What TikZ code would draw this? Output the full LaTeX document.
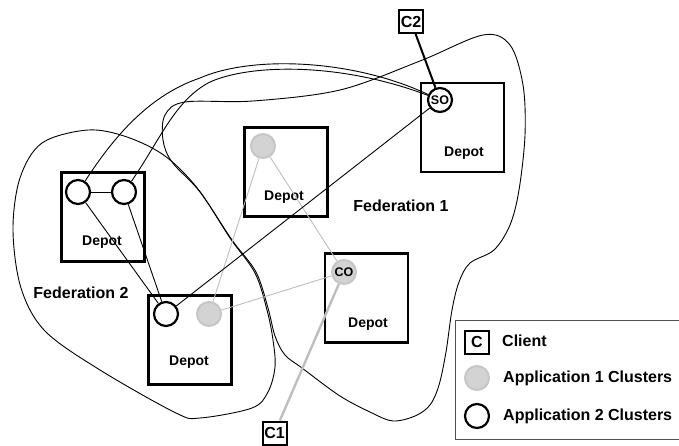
\documentclass[tikz,border=0pt]{standalone}
\usepackage{fontspec}
\setmainfont{Liberation Sans}
\definecolor{appgrey}{HTML}{D3D3D3}
\definecolor{appedge}{HTML}{C6C6C6}
\definecolor{linkgrey}{HTML}{BEBEBE}
\definecolor{legendedge}{HTML}{505050}
\begin{document}
\begin{tikzpicture}[x=1pt,y=-1pt,
  depotbox/.style={draw, line width=2.3pt, minimum width=83pt, minimum height=89pt, inner sep=0pt},
  depotlabel/.style={font=\fontsize{14}{16}\selectfont\bfseries, inner sep=0pt},
  fedlabel/.style={font=\fontsize{16}{18}\selectfont\bfseries, inner sep=0pt},
  legendtext/.style={font=\fontsize{16}{18}\selectfont\bfseries, inner sep=0pt, anchor=west},
  appone/.style={circle, fill=appgrey, draw=appedge, line width=2pt, minimum size=24pt, inner sep=0pt, font=\fontsize{12.5}{13}\selectfont\bfseries},
  apptwo/.style={circle, fill=white, draw=black, line width=2.2pt, minimum size=24pt, inner sep=0pt, font=\fontsize{12.5}{13}\selectfont\bfseries},
  client/.style={draw, line width=2pt, minimum width=24pt, minimum height=23pt, inner sep=0pt, font=\fontsize{16}{18}\selectfont\bfseries},
  thinlink/.style={line width=0.9pt, black},
  greylink/.style={line width=0.9pt, linkgrey},
  fedline/.style={line width=0.9pt, black}
]
\useasboundingbox (0,0) rectangle (679,446);

% federation outlines
\draw[fedline] plot[smooth cycle, tension=0.55] coordinates {
  (185,102) (253,101) (340,90) (420,61) (483,35) (510,45) (523,85) (525,135)
  (519,190) (510,225) (494,250) (470,263) (459,282) (452,310) (446,352)
  (439,385) (430,405) (415,416) (393,421) (372,413) (340,396) (302,368)
  (285,355) (275,336) (268,308) (256,272) (232,240) (200,192) (172,162)
  (163,140) (165,115)};
\draw[fedline] plot[smooth cycle, tension=0.55] coordinates {
  (88,130) (127,137) (165,156) (198,189) (230,238) (255,273) (267,310)
  (273,340) (275,367) (268,392) (252,408) (200,418) (176,413) (100,370)
  (45,331) (21,288) (13,230) (20,178) (42,143)};

% depots
\node[depotbox] (depotL) at (103,217) {};
\node[depotbox] (depotM) at (286,172) {};
\node[depotbox] (depotS) at (462.5,127.5) {};
\node[depotbox] (depotC) at (366.5,298) {};
\node[depotbox] (depotB) at (190,340) {};

\node[depotlabel] (labL) at (102,242) {Depot};
\node[depotlabel] (labM) at (284,197) {Depot};
\node[depotlabel] (labS) at (464,153) {Depot};
\node[depotlabel] (labC) at (368,324) {Depot};
\node[depotlabel] (labB) at (189,362) {Depot};

\node[fedlabel] (fed1) at (401,206) {Federation 1};
\node[fedlabel] (fed2) at (81,293) {Federation 2};

% application clusters
\node[apptwo] (a2L) at (78,192) {};
\node[apptwo] (a2R) at (124,192) {};
\node[apptwo] (a2B) at (166,314) {};
\node[apptwo] (so) at (440,100) {SO};
\node[appone] (a1M) at (263,146) {};
\node[appone] (a1B) at (209,314) {};
\node[appone] (co) at (344,272) {CO};

% clients
\node[client] (c2) at (411,21.5) {C2};
\node[client] (c1) at (274.5,433) {C1};

% application 1 links
\draw[greylink] (a1M) -- (a1B);
\draw[greylink] (a1M) -- (co);
\draw[greylink] (a1B) -- (co);
\draw[line width=2.4pt, linkgrey] (c1) -- (co);

% application 2 links
\draw[thinlink] (a2L) -- (a2R);
\draw[thinlink] (a2L) -- (a2B);
\draw[thinlink] (a2R) -- (a2B);
\draw[thinlink] (so) -- (a2B);
\draw[thinlink] (a2L) .. controls (115,135) and (150,95) .. (200,78)
  .. controls (250,56) and (350,58) .. (so);
\draw[thinlink] (a2R) .. controls (160,140) and (175,100) .. (210,82)
  .. controls (250,64) and (340,62) .. (so);
\draw[line width=2pt] (c2) -- (so);

% legend
\draw[line width=1pt, legendedge] (455,320) rectangle (690,439);
\node[client] (legc) at (477,342) {C};
\node[legendtext] (legct) at (502,341) {Client};
\node[appone] (leg1) at (477,378) {};
\node[legendtext] (leg1t) at (503,378) {Application 1 Clusters};
\node[apptwo] (leg2) at (477,416) {};
\node[legendtext] (leg2t) at (503,416) {Application 2 Clusters};
\end{tikzpicture}
\end{document}
